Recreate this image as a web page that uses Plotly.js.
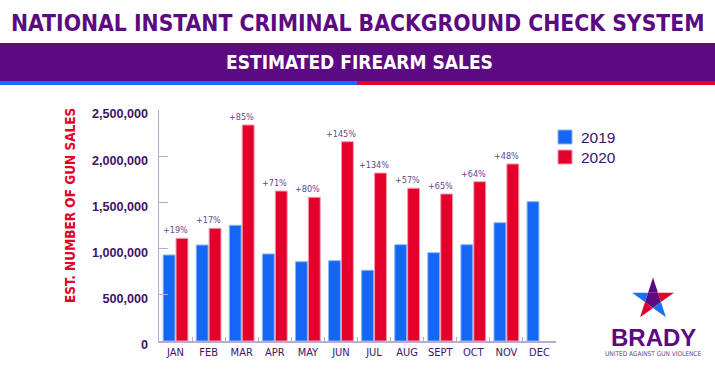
<!DOCTYPE html>
<html>
<head>
<meta charset="utf-8">
<script src="https://cdn.plot.ly/plotly-3.0.1.min.js"></script>
<style>html,body{margin:0;padding:0;background:#fff;}#chart{width:715px;height:375px;}</style>
</head>
<body>
<div id="chart"></div>
<script>
// ---- data ----
const months = ["JAN","FEB","MAR","APR","MAY","JUN","JUL","AUG","SEPT","OCT","NOV","DEC"];
const sales2019 = [931000,1039000,1252000,942000,858000,869000,765000,1042000,956000,1042000,1280000,1508000];
const sales2020 = [1111000,1220000,2338000,1623000,1555000,2157000,1818000,1653000,1591000,1724000,1916000,null];
const pctLabels = ["+19%","+17%","+85%","+71%","+80%","+145%","+134%","+57%","+65%","+64%","+48%",""];
const seriesNames = ["2019","2020"];
const yTickVals = [0,500000,1000000,1500000,2000000,2500000];
const yTickText = ["0","500,000","1,000,000","1,500,000","2,000,000","2,500,000"];

// ---- layout helpers (pixel -> paper) ----
const W = 715, H = 375, ML = 159, MR = 159, MT = 110, MB = 34;
const PW = W - ML - MR, PH = H - MT - MB;
const X = px => (px - ML) / PW;
const Y = py => (H - MB - py) / PH;

const COND = "DejaVu Sans Condensed, DejaVu Sans, sans-serif";
const PURPLE = "#5B0A82", DARK = "#3B1468", BLUE = "#1467F5", RED = "#E4002B", AXIS = "#B8ABD2";
const colors = [BLUE, RED], edges = ["#8DB3F9", "#F29AAE"];

const traces = [
  {type:"bar", name:seriesNames[0], x:months, y:sales2019,
   marker:{color:colors[0], line:{color:edges[0], width:1}}, hoverinfo:"skip"},
  {type:"bar", name:seriesNames[1], x:months, y:sales2020,
   marker:{color:colors[1], line:{color:edges[1], width:1}}, hoverinfo:"skip"}
];

const annotations = [];
months.forEach((m,i)=>{
  if (!pctLabels[i]) return;
  annotations.push({x:m, y:Math.max(sales2019[i], sales2020[i] || 0), xref:"x", yref:"y",
    text:pctLabels[i], showarrow:false, yanchor:"bottom", yshift:1,
    font:{family:COND, size:9, color:"#5E4A8E"}});
});
// titles
annotations.push({xref:"paper", yref:"paper", x:X(358), y:Y(23), text:"<b>NATIONAL INSTANT CRIMINAL BACKGROUND CHECK SYSTEM</b>",
  showarrow:false, xanchor:"center", yanchor:"middle", font:{family:COND, size:22.7, color:PURPLE}});
annotations.push({xref:"paper", yref:"paper", x:X(359), y:Y(62), text:"<b>ESTIMATED FIREARM SALES</b>",
  showarrow:false, xanchor:"center", yanchor:"middle", font:{family:COND, size:19, color:"#ffffff"}});
annotations.push({xref:"paper", yref:"paper", x:X(70), y:Y(206), text:"<b>EST. NUMBER OF GUN SALES</b>", textangle:-90,
  showarrow:false, xanchor:"center", yanchor:"middle", font:{family:COND, size:13.5, color:RED}});
annotations.push({xref:"paper", yref:"paper", x:X(653), y:Y(337), text:"<b>BRADY</b>",
  showarrow:false, xanchor:"center", yanchor:"middle", font:{family:"Liberation Sans", size:24, color:PURPLE}});
annotations.push({xref:"paper", yref:"paper", x:X(653), y:Y(353.5), text:"UNITED AGAINST GUN VIOLENCE",
  showarrow:false, xanchor:"center", yanchor:"middle", font:{family:COND, size:6.5, color:"#5E4A7E"}});
// manual legend
const shapes = [];
seriesNames.forEach((n,k)=>{
  const cyL = 137 + 20*k;
  shapes.push({type:"rect", xref:"paper", yref:"paper", x0:X(558), x1:X(572), y0:Y(cyL+7), y1:Y(cyL-7),
    fillcolor:colors[k], line:{color:edges[k], width:1}});
  annotations.push({xref:"paper", yref:"paper", x:X(579), y:Y(cyL), text:n, showarrow:false,
    xanchor:"left", yanchor:"middle", font:{family:"Liberation Sans", size:15.5, color:DARK}});
});

// banner + stripes
shapes.push({type:"rect", xref:"paper", yref:"paper", x0:X(0), x1:X(715), y0:Y(81), y1:Y(43), fillcolor:PURPLE, line:{width:0}, layer:"below"});
shapes.push({type:"rect", xref:"paper", yref:"paper", x0:X(0), x1:X(357), y0:Y(85), y1:Y(81), fillcolor:"#1A6CF6", line:{width:0}, layer:"below"});
shapes.push({type:"rect", xref:"paper", yref:"paper", x0:X(357), x1:X(715), y0:Y(85), y1:Y(81), fillcolor:RED, line:{width:0}, layer:"below"});
// pentagram logo
const cx = 653, cy = 299.5, R = 22, r = R * 0.382;
const outer = [], inner = [];
for (let k = 0; k < 5; k++) {
  const a = -Math.PI/2 + k * 2*Math.PI/5;
  outer.push([cx + R*Math.cos(a), cy + R*Math.sin(a)]);
  const b = a + Math.PI/5;
  inner.push([cx + r*Math.cos(b), cy + r*Math.sin(b)]);
}
const P = pts => "M" + pts.map(p => X(p[0]) + "," + Y(p[1])).join("L") + "Z";
const arm = k => P([inner[(k+4)%5], outer[k], inner[k]]);
shapes.push({type:"path", xref:"paper", yref:"paper", path:P(inner), fillcolor:PURPLE, line:{width:0}});
shapes.push({type:"path", xref:"paper", yref:"paper", path:arm(0), fillcolor:PURPLE, line:{width:0}});
shapes.push({type:"path", xref:"paper", yref:"paper", path:arm(4), fillcolor:"#1C6EF2", line:{width:0}});
shapes.push({type:"path", xref:"paper", yref:"paper", path:arm(2), fillcolor:"#1C6EF2", line:{width:0}});
shapes.push({type:"path", xref:"paper", yref:"paper", path:arm(1), fillcolor:RED, line:{width:0}});
shapes.push({type:"path", xref:"paper", yref:"paper", path:arm(3), fillcolor:RED, line:{width:0}});

const layout = {
  width:W, height:H, margin:{l:ML, r:MR, t:MT, b:MB, pad:0},
  paper_bgcolor:"#ffffff", plot_bgcolor:"#ffffff",
  barmode:"group", bargap:0.22, bargroupgap:0.08,
  showlegend:false,
  xaxis:{range:[-0.5,11.5], showgrid:false, showline:true, linecolor:AXIS, linewidth:1.5,
    ticks:"inside", tickson:"boundaries", ticklen:4, tickcolor:AXIS, tickwidth:1, tickangle:0,
    tickfont:{family:COND, size:11, color:DARK}, fixedrange:true},
  yaxis:{range:[0,2500000], showgrid:false, zeroline:false, showline:true, linecolor:AXIS, linewidth:1.5,
    ticks:"inside", ticklen:9, tickcolor:AXIS, tickwidth:1,
    tickvals:yTickVals, ticktext:yTickText, ticklabelstandoff:7, ticklabelshift:4,
    tickfont:{family:"Liberation Sans", size:12.6, color:DARK, weight:"bold"}, fixedrange:true},
  annotations:annotations, shapes:shapes
};
Plotly.newPlot("chart", traces, layout, {displayModeBar:false, staticPlot:true});
</script>
</body>
</html>
